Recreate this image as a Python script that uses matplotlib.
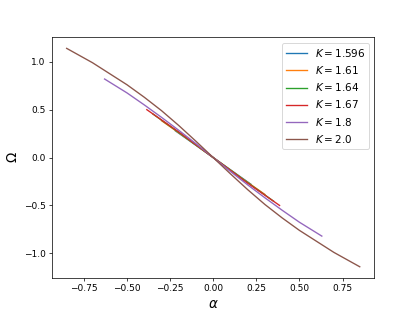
import numpy as np
import matplotlib
matplotlib.use("Agg")
import matplotlib.pyplot as plt

K_values = [1.596, 1.61, 1.64, 1.67, 1.8, 2.0]

alpha_1596 = [-0.22, -0.11, 0.0, 0.11, 0.22]
omega_1596 = [0.28, 0.14, 0.0, -0.14, -0.28]

alpha_161 = [-0.30, -0.15, 0.0, 0.15, 0.30]
omega_161 = [0.385, 0.195, 0.0, -0.195, -0.385]

alpha_164 = [-0.35, -0.175, 0.0, 0.175, 0.35]
omega_164 = [0.455, 0.23, 0.0, -0.23, -0.455]

alpha_167 = [-0.385, -0.19, 0.0, 0.19, 0.385]
omega_167 = [0.50, 0.255, 0.0, -0.255, -0.50]

alpha_18 = [-0.63, -0.5, -0.4, -0.3, -0.2, -0.1, 0.0, 0.1, 0.2, 0.3, 0.4, 0.5, 0.63]
omega_18 = [0.82, 0.675, 0.55, 0.42, 0.285, 0.145, 0.0, -0.145, -0.285, -0.42, -0.55, -0.675, -0.82]

alpha_20 = [-0.85, -0.8, -0.7, -0.6, -0.5, -0.4, -0.3, -0.2, -0.1, 0.0,
            0.1, 0.2, 0.3, 0.4, 0.5, 0.6, 0.7, 0.8, 0.85]
omega_20 = [1.14, 1.09, 0.99, 0.875, 0.76, 0.63, 0.49, 0.335, 0.17, 0.0,
            -0.17, -0.335, -0.49, -0.63, -0.76, -0.875, -0.99, -1.09, -1.14]

series = [(alpha_1596, omega_1596), (alpha_161, omega_161), (alpha_164, omega_164),
          (alpha_167, omega_167), (alpha_18, omega_18), (alpha_20, omega_20)]

fig, ax = plt.subplots(figsize=(6.4, 4.8), dpi=65)
for K, (a, o) in zip(K_values, series):
    ax.plot(a, o, label=r"$K = $" + str(K), lw=1.5)
ax.set_xlabel(r"$\alpha$", fontsize=15)
ax.set_ylabel(r"$\Omega$", fontsize=15)
ax.legend(loc="upper right", fontsize=11.5)
fig.savefig("out.png", dpi=65)
